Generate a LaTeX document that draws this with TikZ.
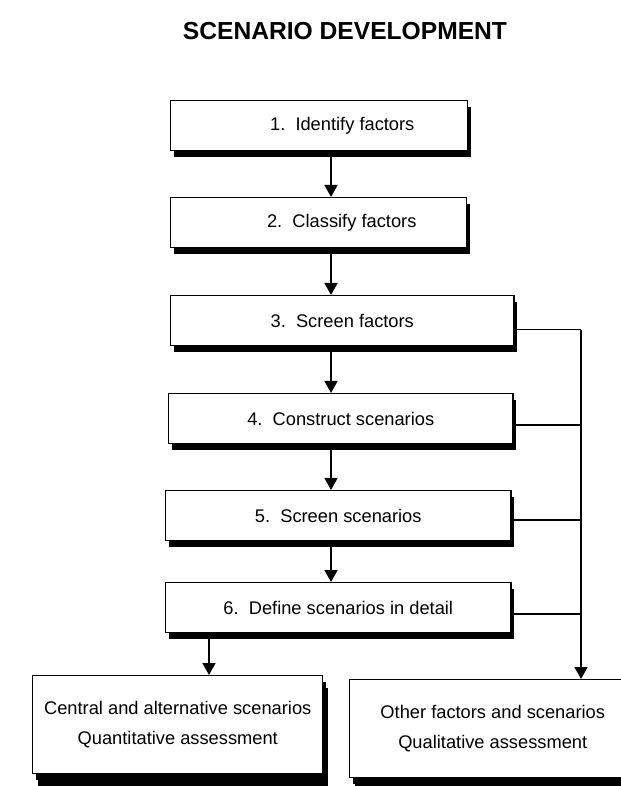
\documentclass[tikz,border=0pt]{standalone}
\usepackage{fontspec}
\setmainfont{Liberation Sans}
\usetikzlibrary{arrows.meta,shadows}

\begin{document}
\begin{tikzpicture}[x=0.025cm, y=-0.025cm,
    procbox/.style={draw, line width=1pt, fill=white, anchor=north west,
        inner sep=0pt, minimum height=1.25cm, font=\fontsize{13}{16}\selectfont,
        drop shadow={shadow xshift=0.08cm, shadow yshift=-0.15cm, fill=black, opacity=1}},
    outbox/.style={procbox, align=center, minimum height=2.45cm,
        font=\fontsize{13}{21}\selectfont,
        drop shadow={shadow xshift=0.13cm, shadow yshift=-0.3cm, fill=black, opacity=1}},
    arr/.style={line width=1.6pt, -{Triangle[length=0.3cm, width=0.32cm]}},
    link/.style={line width=1.4pt}]

    \useasboundingbox (0,0) rectangle (620,786);

    % 1. Title
    \node (title) at (345,31) {\bfseries\fontsize{17.5}{20}\selectfont SCENARIO DEVELOPMENT};

    % 2. The six steps
    \node[procbox, minimum width=7.425cm] (f1) at (170,100) {\hspace*{1.15cm}1.\ \ Identify factors};
    \node[procbox, minimum width=7.4cm]   (f2) at (170,197) {\hspace*{1.15cm}2.\ \ Classify factors};
    \node[procbox, minimum width=8.575cm] (f3) at (170,295) {3.\ \ Screen factors};
    \node[procbox, minimum width=8.6cm]   (f4) at (168,393) {4.\ \ Construct scenarios};
    \node[procbox, minimum width=8.625cm] (f5) at (165,490) {5.\ \ Screen scenarios};
    \node[procbox, minimum width=8.625cm] (f6) at (165,582) {6.\ \ Define scenarios in detail};

    % 3. The two outcomes
    \node[outbox, minimum width=7.25cm] (central) at (32,675)
        {\rule{0pt}{0.3cm}Central and alternative scenarios\\Quantitative assessment};
    \node[outbox, minimum width=7.15cm] (other) at (349,679)
        {\rule{0pt}{0.3cm}Other factors and scenarios\\Qualitative assessment};

    % 4. Main flow down the steps
    \coordinate (spine) at (331,0);
    \draw[arr] (f1.south -| spine) -- (f2.north -| spine);
    \draw[arr] (f2.south -| spine) -- (f3.north -| spine);
    \draw[arr] (f3.south -| spine) -- (f4.north -| spine);
    \draw[arr] (f4.south -| spine) -- (f5.north -| spine);
    \draw[arr] (f5.south -| spine) -- (f6.north -| spine);
    \coordinate (drop) at (209,0);
    \draw[arr] (f6.south -| drop) -- (central.north -| drop);

    % 5. Side branch to the other factors
    \coordinate (bus) at (581,0);
    \coordinate (t3) at ([yshift=-0.22cm]f3.east);
    \coordinate (t4) at ([yshift=-0.15cm]f4.east);
    \coordinate (t5) at ([yshift=-0.1cm]f5.east);
    \coordinate (t6) at ([yshift=-0.15cm]f6.east);
    \draw[link] (t3) -- (t3 -| bus);
    \draw[link] (t4) -- (t4 -| bus);
    \draw[link] (t5) -- (t5 -| bus);
    \draw[link] (t6) -- (t6 -| bus);
    \draw[arr] (t3 -| bus) -- (other.north -| bus);

\end{tikzpicture}
\end{document}
